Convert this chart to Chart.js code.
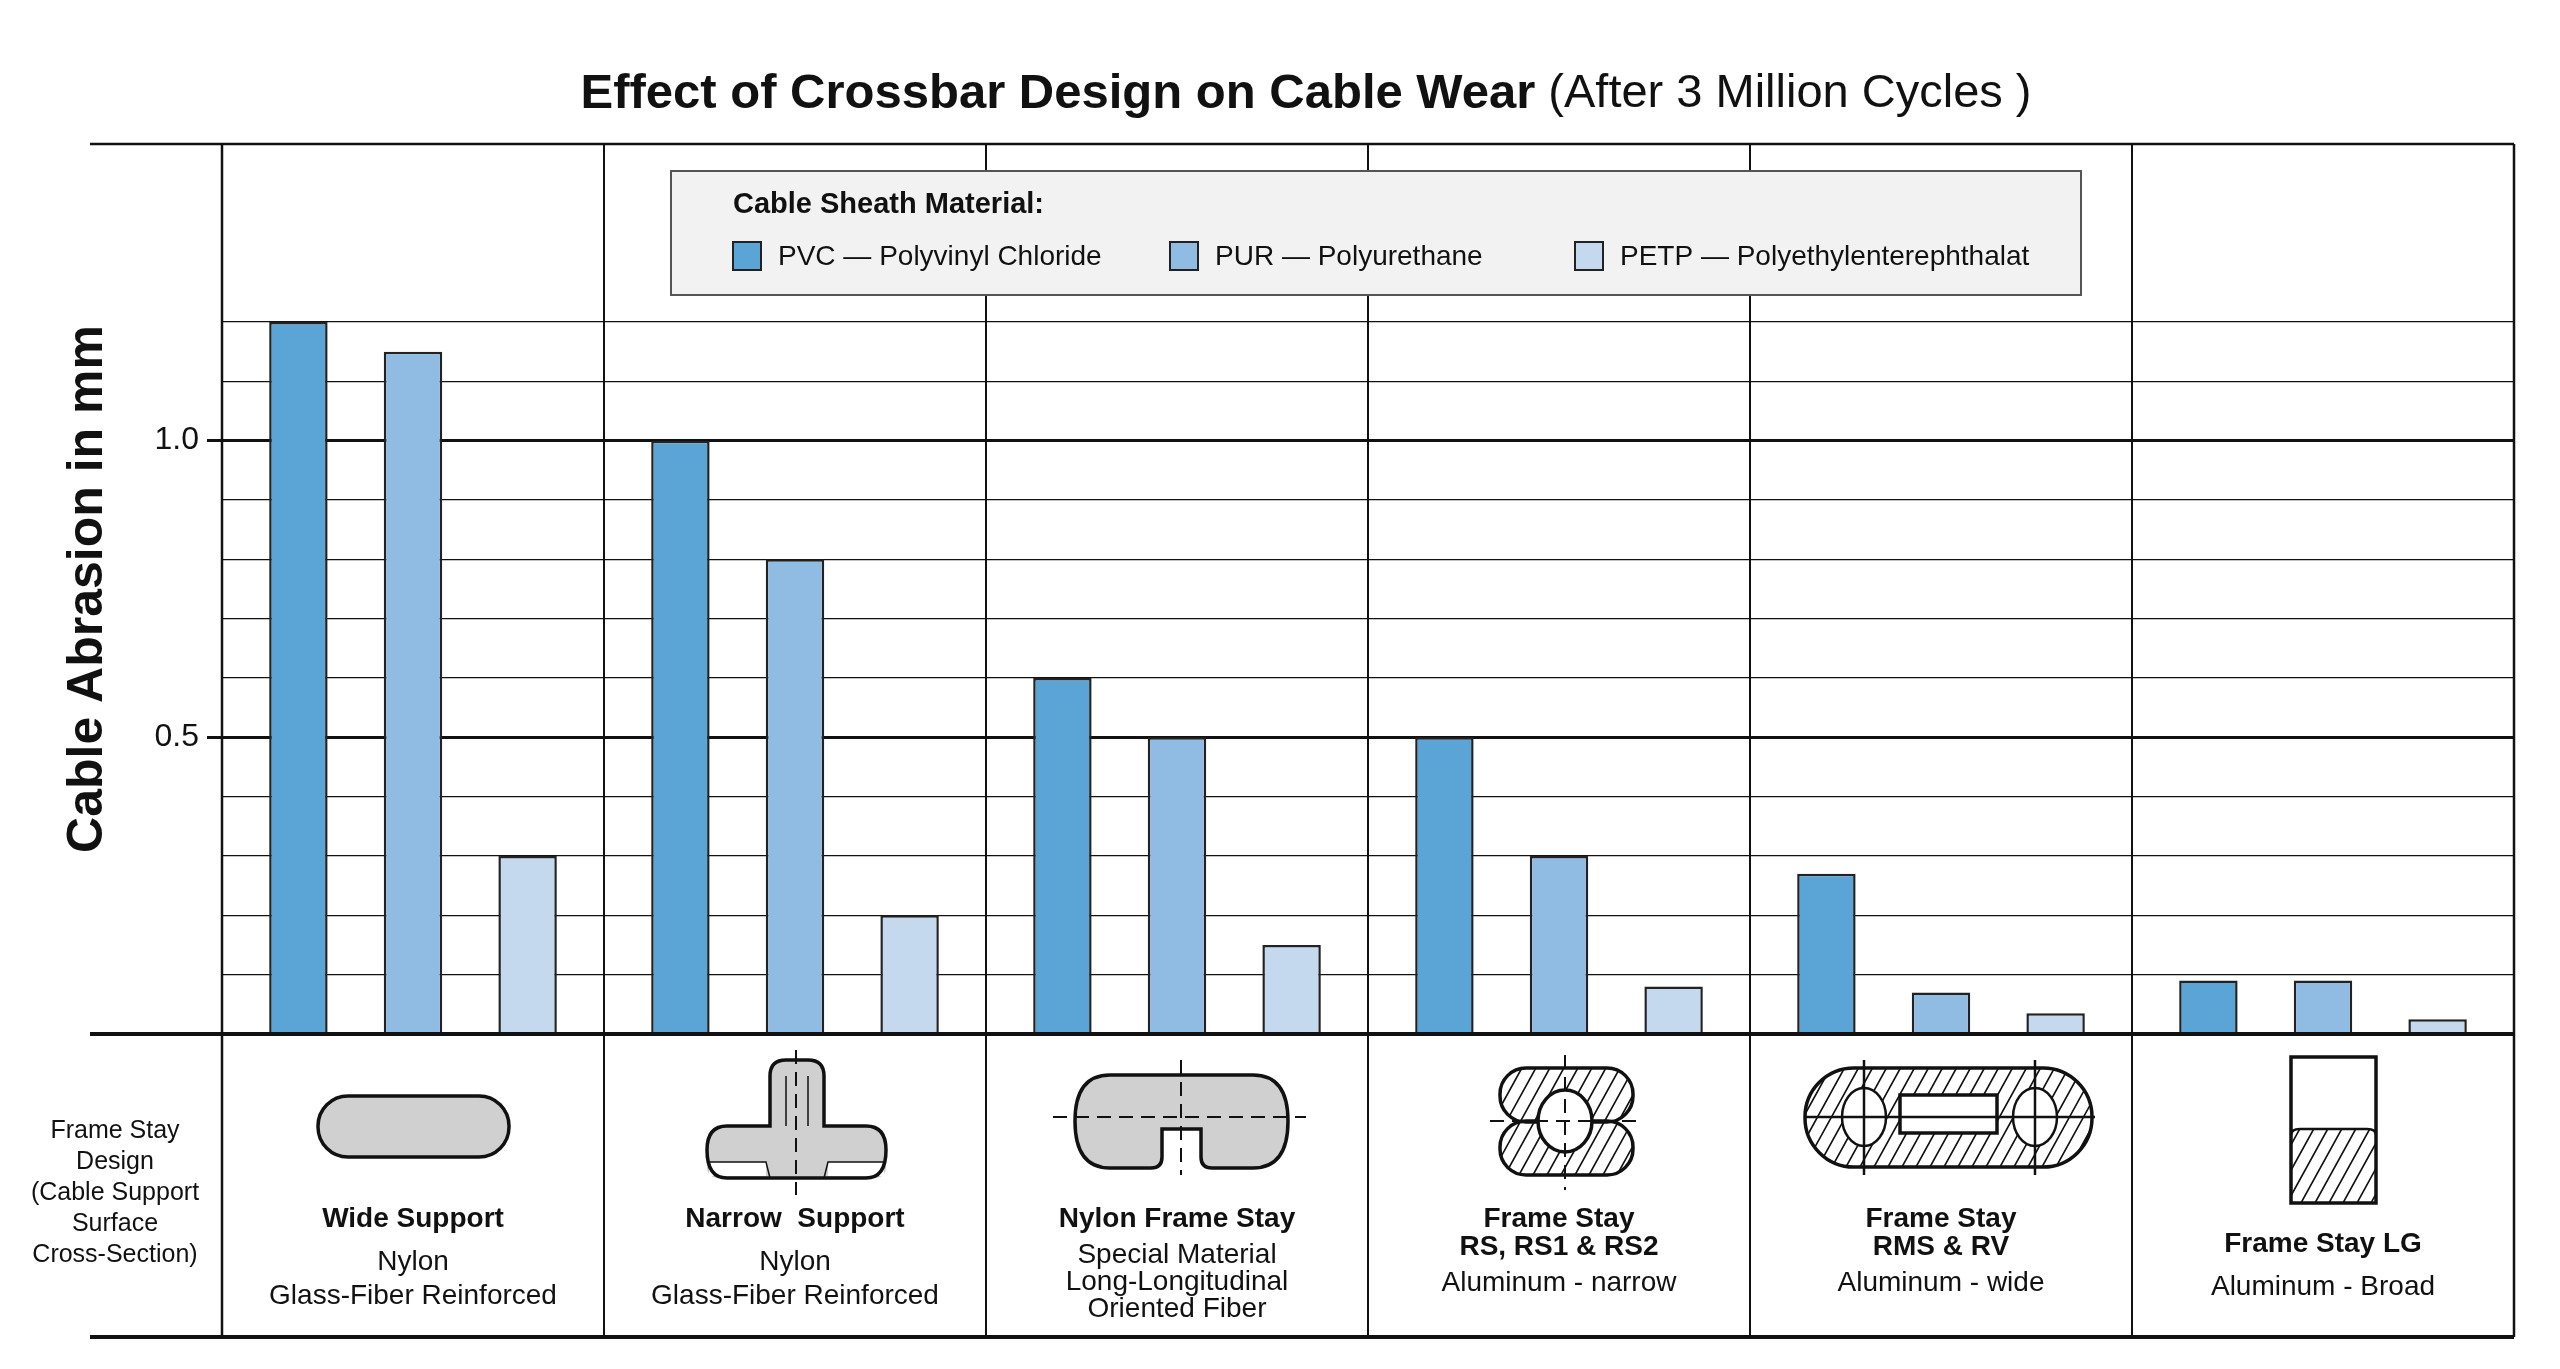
<!DOCTYPE html>
<html><head><meta charset="utf-8">
<script src="https://cdn.jsdelivr.net/npm/chart.js@4.4.1/dist/chart.umd.min.js"></script>
<style>html,body{margin:0;padding:0;background:#fff}#wrap{width:2560px;height:1369px}</style>
</head><body><div id="wrap"><canvas id="c" width="2560" height="1369"></canvas></div>
<script>
const categories = ['Wide Support','Narrow  Support','Nylon Frame Stay','Frame Stay RS','Frame Stay RMS','Frame Stay LG'];
const pvcValues  = [1.2, 1.0, 0.6, 0.5, 0.27, 0.09];
const purValues  = [1.15, 0.8, 0.5, 0.3, 0.07, 0.09];
const petpValues = [0.3, 0.2, 0.15, 0.08, 0.035, 0.025];
const seriesNames = ['PVC — Polyvinyl Chloride','PUR — Polyurethane','PETP — Polyethylenterephthalat'];
const tickLabels = [0.5, 1.0];
const hiddenGrid = [1.3, 1.4];
const catTexts = [
  {bold:['Wide Support'], reg:['Nylon','Glass-Fiber Reinforced']},
  {bold:['Narrow  Support'], reg:['Nylon','Glass-Fiber Reinforced']},
  {bold:['Nylon Frame Stay'], reg:['Special Material','Long-Longitudinal','Oriented Fiber']},
  {bold:['Frame Stay','RS, RS1 & RS2'], reg:['Aluminum - narrow']},
  {bold:['Frame Stay','RMS & RV'], reg:['Aluminum - wide']},
  {bold:['Frame Stay LG'], reg:['Aluminum - Broad']}
];
const colors = ['#5ba4d6','#90bce3','#c4d9ee'];
const FONT = '"Liberation Sans", Arial, sans-serif';
const near = (arr,v) => arr.some(t=>Math.abs(t-v)<1e-6);

function hatch(ctx, pathFn, x0, y0, x1, y1, sp){
  ctx.save(); pathFn(); ctx.clip();
  ctx.beginPath(); ctx.lineWidth = 1.6; ctx.strokeStyle = '#111';
  const h = y1 - y0;
  for(let x = x0 - h; x < x1 + h; x += sp){ ctx.moveTo(x, y1); ctx.lineTo(x + h*0.55, y0); }
  ctx.stroke(); ctx.restore();
}
function rr(ctx,x,y,w,h,r){ ctx.beginPath(); ctx.roundRect(x,y,w,h,r); }
function dashLine(ctx,x0,y0,x1,y1){ ctx.save(); ctx.setLineDash([14,8]); ctx.lineWidth=2; ctx.strokeStyle='#111'; ctx.beginPath(); ctx.moveTo(x0,y0); ctx.lineTo(x1,y1); ctx.stroke(); ctx.restore(); }

const deco = {
  id:'deco',
  afterDraw(chart){
    const ctx = chart.ctx, a = chart.chartArea, xs = chart.scales.x;
    const L = 90, bottom = 1337;
    ctx.save();
    ctx.fillStyle = '#111'; ctx.textBaseline = 'middle';
    const t1 = 'Effect of Crossbar Design on Cable Wear', t2 = ' (After 3 Million Cycles )';
    ctx.font = 'bold 49px ' + FONT; const w1 = ctx.measureText(t1).width;
    ctx.font = '47px ' + FONT; const w2 = ctx.measureText(t2).width;
    let tx = 1306 - (w1 + w2) / 2;
    ctx.font = 'bold 49px ' + FONT; ctx.textAlign = 'left'; ctx.fillText(t1, tx, 94);
    ctx.font = '47px ' + FONT; ctx.fillText(t2, tx + w1, 94);
    ctx.strokeStyle = '#111';
    ctx.lineWidth = 2.5; ctx.beginPath(); ctx.moveTo(L, a.top); ctx.lineTo(a.right, a.top); ctx.stroke();
    ctx.lineWidth = 4; ctx.beginPath(); ctx.moveTo(L, a.bottom); ctx.lineTo(a.right, a.bottom); ctx.stroke();
    ctx.beginPath(); ctx.moveTo(L, bottom); ctx.lineTo(a.right, bottom); ctx.stroke();
    ctx.lineWidth = 2.5;
    ctx.beginPath(); ctx.moveTo(a.left, a.top); ctx.lineTo(a.left, bottom); ctx.stroke();
    ctx.beginPath(); ctx.moveTo(a.right, a.top); ctx.lineTo(a.right, bottom); ctx.stroke();
    const n = categories.length, cw = (a.right - a.left) / n;
    ctx.lineWidth = 2;
    for(let i=1;i<n;i++){ const x = a.left + cw*i; ctx.beginPath(); ctx.moveTo(x, a.bottom); ctx.lineTo(x, bottom); ctx.stroke(); }
    ctx.font = '25px ' + FONT; ctx.textAlign = 'center';
    ['Frame Stay','Design','(Cable Support','Surface','Cross-Section)'].forEach((s,i)=>ctx.fillText(s, 115, 1131 + i*31));
    categories.forEach((c,i)=>{
      const cx = xs.getPixelForValue(i), t = catTexts[i];
      let y = (i===5) ? 1244 : 1219;
      ctx.font = 'bold 28px ' + FONT;
      t.bold.forEach(s=>{ ctx.fillText(s, cx, y); y += 28; });
      y += (i===2?8:(t.bold.length>1?8:15));
      ctx.font = '28px ' + FONT;
      t.reg.forEach(s=>{ ctx.fillText(s, cx, y); y += (i===2?27:34); });
    });
    ctx.lineWidth = 3.5; ctx.strokeStyle = '#111'; ctx.fillStyle = '#d0d0d0';
    rr(ctx,318,1096,191,61,30); ctx.fill(); ctx.stroke();
    const T = () => { ctx.beginPath(); ctx.roundRect(770,1060,54,100,[16,16,0,0]); ctx.roundRect(707,1126,179,52,[16,16,10,10]); };
    ctx.fillStyle='#d0d0d0'; T(); ctx.fill();
    ctx.beginPath(); ctx.moveTo(786,1076); ctx.lineTo(786,1126); ctx.moveTo(808,1076); ctx.lineTo(808,1126); ctx.lineWidth=1.5; ctx.stroke();
    ctx.fillStyle='#fff'; ctx.fillRect(709,1162,57,14); ctx.fillRect(828,1162,56,14);
    ctx.lineWidth=1.5; ctx.beginPath(); ctx.moveTo(709,1162); ctx.lineTo(766,1162); ctx.lineTo(770,1178); ctx.moveTo(884,1162); ctx.lineTo(828,1162); ctx.lineTo(824,1178); ctx.stroke();
    ctx.lineWidth=3.5; ctx.beginPath();
    ctx.moveTo(786,1060); ctx.lineTo(808,1060); ctx.quadraticCurveTo(824,1060,824,1076); ctx.lineTo(824,1126);
    ctx.lineTo(866,1126); ctx.quadraticCurveTo(886,1126,886,1150); ctx.quadraticCurveTo(886,1178,866,1178);
    ctx.lineTo(727,1178); ctx.quadraticCurveTo(707,1178,707,1150); ctx.quadraticCurveTo(707,1126,727,1126);
    ctx.lineTo(770,1126); ctx.lineTo(770,1076); ctx.quadraticCurveTo(770,1060,786,1060); ctx.stroke();
    dashLine(ctx,796,1050,796,1195);
    ctx.fillStyle='#d0d0d0'; ctx.beginPath();
    ctx.moveTo(1110,1075); ctx.lineTo(1253,1075); ctx.quadraticCurveTo(1288,1075,1288,1121); ctx.quadraticCurveTo(1288,1168,1253,1168);
    ctx.lineTo(1212,1168); ctx.quadraticCurveTo(1201,1168,1201,1157); ctx.lineTo(1201,1129); ctx.lineTo(1162,1129); ctx.lineTo(1162,1157);
    ctx.quadraticCurveTo(1162,1168,1151,1168); ctx.lineTo(1110,1168); ctx.quadraticCurveTo(1075,1168,1075,1121); ctx.quadraticCurveTo(1075,1075,1110,1075);
    ctx.closePath(); ctx.fill(); ctx.stroke();
    dashLine(ctx,1053,1117,1306,1117); dashLine(ctx,1181,1060,1181,1175);
    const rsPath = () => { ctx.beginPath(); ctx.roundRect(1500,1068,133,54,26); ctx.roundRect(1500,1121,133,54,26); };
    hatch(ctx, rsPath, 1500,1068,1633,1175,14);
    ctx.lineWidth=3.5; ctx.beginPath(); ctx.roundRect(1500,1068,133,54,26); ctx.stroke(); ctx.beginPath(); ctx.roundRect(1500,1121,133,54,26); ctx.stroke();
    ctx.fillStyle='#fff'; ctx.beginPath(); ctx.ellipse(1565,1121,27,31,0,0,Math.PI*2); ctx.fill(); ctx.stroke();
    dashLine(ctx,1490,1121,1643,1121); dashLine(ctx,1565,1055,1565,1190);
    const rmsPath = () => { ctx.beginPath(); ctx.roundRect(1805,1068,287,99,49); };
    hatch(ctx, rmsPath, 1805,1068,2092,1167,14);
    ctx.lineWidth=3.5; rmsPath(); ctx.stroke();
    ctx.fillStyle='#fff';
    [1864,2035].forEach(x=>{ ctx.beginPath(); ctx.ellipse(x,1117,22,29,0,0,Math.PI*2); ctx.fill(); ctx.lineWidth=2.5; ctx.stroke(); });
    ctx.lineWidth=3.5; ctx.fillRect(1900,1095,97,38); ctx.strokeRect(1900,1095,97,38);
    ctx.lineWidth=2.5; ctx.beginPath(); ctx.moveTo(1804,1117); ctx.lineTo(2095,1117);
    ctx.moveTo(1864,1060); ctx.lineTo(1864,1175); ctx.moveTo(2035,1060); ctx.lineTo(2035,1175); ctx.stroke();
    hatch(ctx, ()=>{ctx.beginPath(); ctx.rect(2291,1129,85,74);}, 2291,1129,2376,1203,14);
    ctx.lineWidth=3.5; ctx.strokeRect(2291,1057,85,146);
    ctx.lineWidth=2.5; ctx.beginPath(); ctx.moveTo(2291,1135); ctx.quadraticCurveTo(2291,1129,2300,1129); ctx.lineTo(2367,1129); ctx.quadraticCurveTo(2376,1129,2376,1135); ctx.stroke();
    ctx.fillStyle='#f2f2f2'; ctx.fillRect(671,171,1410,124); ctx.strokeStyle='#555'; ctx.lineWidth=2; ctx.strokeRect(671,171,1410,124);
    ctx.fillStyle='#111'; ctx.textAlign='left'; ctx.font='bold 29px '+FONT; ctx.fillText('Cable Sheath Material:', 733, 205);
    ctx.font='28px '+FONT;
    const lx=[733,1170,1575];
    chart.data.datasets.forEach((d,i)=>{
      ctx.fillStyle=d.backgroundColor; ctx.fillRect(lx[i],242,28,28); ctx.strokeStyle='#222'; ctx.lineWidth=2; ctx.strokeRect(lx[i],242,28,28);
      ctx.fillStyle='#111'; ctx.fillText(d.label, lx[i]+45, 257);
    });
    ctx.restore();
  }
};

new Chart(document.getElementById('c'), {
  type:'bar',
  data:{ labels:categories, datasets:[
    {label:seriesNames[0], data:pvcValues, backgroundColor:colors[0]},
    {label:seriesNames[1], data:purValues, backgroundColor:colors[1]},
    {label:seriesNames[2], data:petpValues, backgroundColor:colors[2]}
  ].map(d=>Object.assign(d,{borderColor:'#222',borderWidth:2.5,categoryPercentage:0.9,barPercentage:0.51}))},
  options:{
    responsive:false, animation:false, devicePixelRatio:1,
    layout:{padding:{left:0,right:46,top:144,bottom:335}},
    plugins:{legend:{display:false},tooltip:{enabled:false}},
    scales:{
      x:{ticks:{display:false},grid:{offset:true,color:'#111',lineWidth:2,drawTicks:false},border:{display:false},
         afterFit(s){s.height=0;}},
      y:{min:0,max:1.5,
         afterFit(s){s.width=222;},
         ticks:{stepSize:0.1,padding:8,color:'#111',font:{size:32,family:FONT},
           callback:v=>near(tickLabels,v)?v.toFixed(1):''},
         grid:{tickLength:15,
           color:c=>near(hiddenGrid,c.tick.value)?'rgba(0,0,0,0)':'#111',
           lineWidth:c=>near(tickLabels,c.tick.value)?3:1.3,
           tickColor:c=>near(tickLabels,c.tick.value)?'#111':'rgba(0,0,0,0)'},
         border:{display:false},
         title:{display:true,text:'Cable Abrasion in mm',color:'#111',font:{size:50,weight:'bold',family:FONT},padding:{top:58,bottom:0}}}
    }
  },
  plugins:[deco]
});
</script></body></html>
